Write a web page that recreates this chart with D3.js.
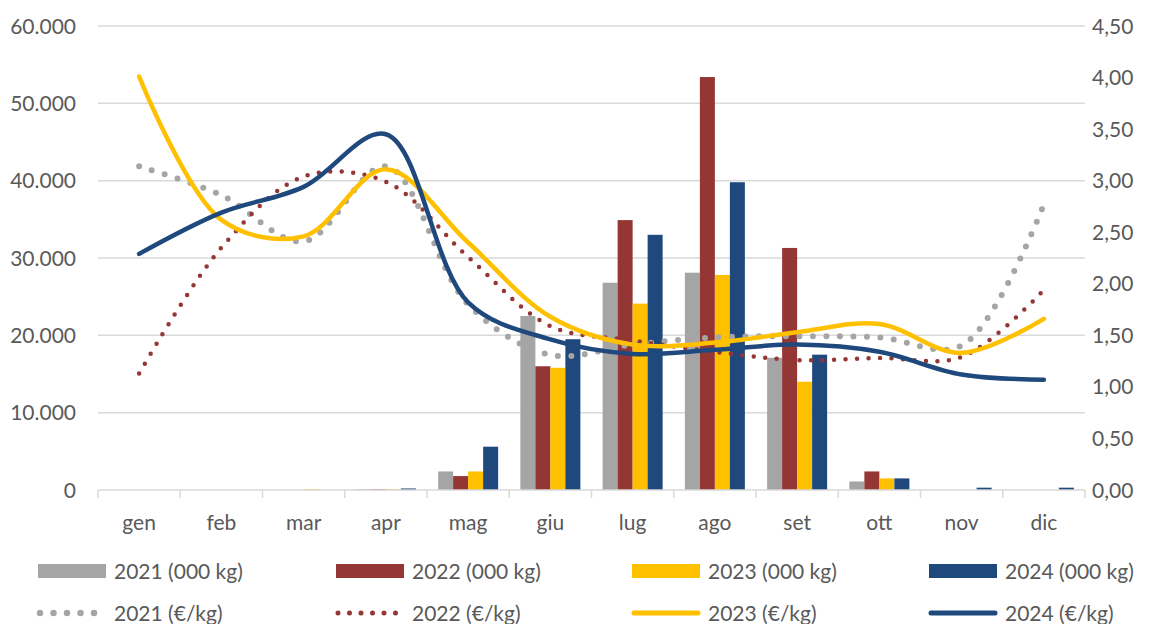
<!DOCTYPE html>
<head>
  <meta charset='utf-8'>
  <style>
      body {
        margin: 0;
        background: #fff;
      }
      text {
        font-family: Lato, 'Open Sans', sans-serif;
        font-size: 21px;
        fill: #595959;
      }
      .grid line {
        stroke: #d9d9d9;
        stroke-width: 1.5px;
      }
      .x-axis path,
      .x-axis line {
        stroke: #d9d9d9;
        stroke-width: 1.5px;
      }
      .price {
        fill: none;
        stroke-linecap: round;
        stroke-linejoin: round;
      }
  </style>
</head>
<body>
<script src='https://d3js.org/d3.v7.min.js'></script>
<script>
    var
        W = 1152,
        H = 624,
        plotLeft = 98,
        plotRight = 1085,
        plotTop = 26,
        plotBottom = 490;

    var months = ['gen', 'feb', 'mar', 'apr', 'mag', 'giu', 'lug', 'ago', 'set', 'ott', 'nov', 'dic'];
    var years = ['2021', '2022', '2023', '2024'];
    var colors = ['#a5a5a5', '#943634', '#ffc000', '#1f497d'];

    // volumes (000 kg), left axis
    var vol2021 = [0, 0, 0, 100, 2400, 22500, 26800, 28100, 17100, 1100, 0, 0];
    var vol2022 = [0, 0, 0, 100, 1800, 16000, 34900, 53400, 31300, 2400, 0, 0];
    var vol2023 = [0, 0, 100, 100, 2400, 15800, 24100, 27800, 14000, 1500, 0, 0];
    var vol2024 = [0, 0, 0, 200, 5600, 19500, 33000, 39800, 17500, 1500, 300, 300];

    // prices (€/kg), right axis
    var price2021 = [3.14, 2.86, 2.41, 3.14, 1.80, 1.31, 1.41, 1.48, 1.49, 1.48, 1.40, 2.77];
    var price2022 = [1.13, 2.35, 3.04, 2.99, 2.26, 1.59, 1.45, 1.34, 1.26, 1.28, 1.29, 1.94];
    var price2023 = [4.01, 2.62, 2.46, 3.11, 2.40, 1.68, 1.41, 1.43, 1.53, 1.61, 1.33, 1.66];
    var price2024 = [2.29, 2.69, 2.94, 3.45, 1.82, 1.46, 1.32, 1.36, 1.41, 1.34, 1.12, 1.07];

    var leftTicks = [0, 10000, 20000, 30000, 40000, 50000, 60000];
    var rightTicks = [0, 0.5, 1, 1.5, 2, 2.5, 3, 3.5, 4, 4.5];

    var volumes = [vol2021, vol2022, vol2023, vol2024];
    var prices = [price2021, price2022, price2023, price2024];

    var
        x0 = d3.scaleBand().domain(months).range([plotLeft, plotRight]),
        x1 = d3.scaleBand().domain(years)
            .range([(x0.bandwidth() - 60) / 2, (x0.bandwidth() + 60) / 2]),
        yL = d3.scaleLinear().domain([0, 60000]).range([plotBottom, plotTop]),
        yR = d3.scaleLinear().domain([0, 4.5]).range([plotBottom, plotTop]),
        fmtL = function(d) { return d3.format(',')(d).replace(/,/g, '.'); },
        fmtR = function(d) { return d3.format('.2f')(d).replace('.', ','); };

    var svg = d3.select('body').append('svg')
        .attr('width', W)
        .attr('height', H);

    // gridlines
    svg.append('g')
        .attr('class', 'grid')
        .selectAll('line')
        .data(leftTicks.slice(1))
        .enter().append('line')
            .attr('x1', plotLeft)
            .attr('x2', plotRight)
            .attr('y1', function(d) { return yL(d); })
            .attr('y2', function(d) { return yL(d); });

    // left axis labels
    svg.append('g')
        .selectAll('text')
        .data(leftTicks)
        .enter().append('text')
            .attr('x', 76)
            .attr('y', function(d) { return yL(d); })
            .attr('dy', '0.36em')
            .attr('text-anchor', 'end')
            .text(fmtL);

    // right axis labels
    svg.append('g')
        .selectAll('text')
        .data(rightTicks)
        .enter().append('text')
            .attr('x', 1092)
            .attr('y', function(d) { return yR(d); })
            .attr('dy', '0.36em')
            .text(fmtR);

    // bars
    var bars = svg.append('g');
    years.forEach(function(yr, k) {
        bars.append('g')
            .selectAll('rect')
            .data(volumes[k])
            .enter().append('rect')
                .attr('x', function(d, i) { return x0(months[i]) + x1(yr); })
                .attr('width', x1.bandwidth())
                .attr('y', function(d) { return yL(d); })
                .attr('height', function(d) { return plotBottom - yL(d); })
                .attr('fill', colors[k]);
    });

    // x axis
    var xAxis = svg.append('g')
        .attr('class', 'x-axis');
    xAxis.append('line')
        .attr('x1', plotLeft).attr('x2', plotRight)
        .attr('y1', plotBottom).attr('y2', plotBottom);
    xAxis.selectAll('.tk')
        .data(months.concat(['end']))
        .enter().append('line')
            .attr('class', 'tk')
            .attr('x1', function(d, i) { return plotLeft + i * x0.step(); })
            .attr('x2', function(d, i) { return plotLeft + i * x0.step(); })
            .attr('y1', plotBottom)
            .attr('y2', plotBottom + 8);
    xAxis.selectAll('text')
        .data(months)
        .enter().append('text')
            .attr('x', function(d) { return x0(d) + x0.bandwidth() / 2; })
            .attr('y', 522)
            .attr('dy', '0.36em')
            .attr('text-anchor', 'middle')
            .text(function(d) { return d; });

    // price lines
    var line = d3.line()
        .x(function(d, i) { return x0(months[i]) + x0.bandwidth() / 2; })
        .y(function(d) { return yR(d); })
        .curve(d3.curveCatmullRom.alpha(0.5));

    var styles = [
        {width: 6, dash: '0,13.5'},
        {width: 4.5, dash: '0,11.5'},
        {width: 4.5, dash: null},
        {width: 4.5, dash: null}
    ];

    prices.forEach(function(p, k) {
        svg.append('path')
            .datum(p)
            .attr('class', 'price')
            .attr('d', line)
            .attr('stroke', colors[k])
            .attr('stroke-width', styles[k].width)
            .attr('stroke-dasharray', styles[k].dash);
    });

    // legend
    var legX = [38, 336, 632, 929];
    var legend = svg.append('g');
    years.forEach(function(yr, k) {
        legend.append('rect')
            .attr('x', legX[k])
            .attr('y', 564)
            .attr('width', 68)
            .attr('height', 14)
            .attr('fill', colors[k]);
        legend.append('text')
            .attr('x', legX[k] + 76)
            .attr('y', 571)
            .attr('dy', '0.36em')
            .text(yr + ' (000 kg)');

        legend.append('line')
            .attr('class', 'price')
            .attr('x1', legX[k] + 2)
            .attr('x2', legX[k] + 66)
            .attr('y1', 613)
            .attr('y2', 613)
            .attr('stroke', colors[k])
            .attr('stroke-width', styles[k].width + 0.5)
            .attr('stroke-dasharray', styles[k].dash);
        legend.append('text')
            .attr('x', legX[k] + 76)
            .attr('y', 613)
            .attr('dy', '0.36em')
            .text(yr + ' (€/kg)');
    });
</script>
</body>
